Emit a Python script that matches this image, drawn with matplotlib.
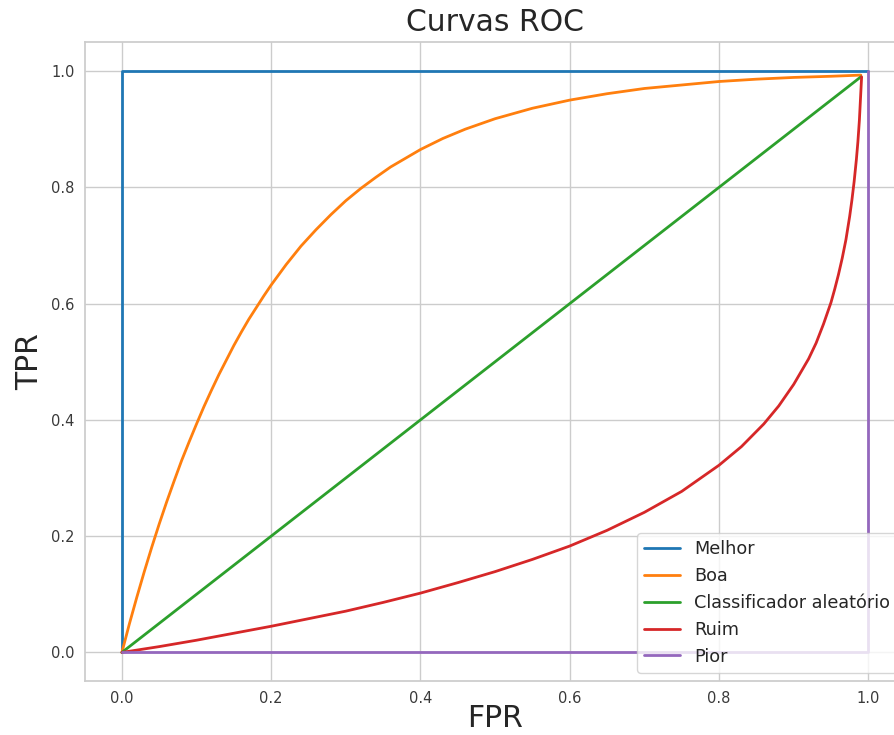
import matplotlib
matplotlib.use("Agg")
import matplotlib.pyplot as plt
import seaborn as sns

# ROC curves (false positive rate vs. true positive rate)
melhor_fpr = [0.0, 0.0, 1.0]
melhor_tpr = [0.0, 1.0, 1.0]

boa_fpr = [0.00, 0.01, 0.02, 0.03, 0.04, 0.05, 0.06, 0.07, 0.08, 0.09, 0.10,
           0.11, 0.12, 0.13, 0.14, 0.15, 0.16, 0.17, 0.18, 0.19, 0.20,
           0.22, 0.24, 0.26, 0.28, 0.30, 0.32, 0.34, 0.36, 0.38, 0.40,
           0.43, 0.46, 0.50, 0.55, 0.60, 0.65, 0.70, 0.75, 0.80, 0.85,
           0.90, 0.95, 0.99]
boa_tpr = [0.000, 0.049, 0.095, 0.139, 0.181, 0.221, 0.259, 0.295, 0.330, 0.362, 0.393,
           0.423, 0.451, 0.478, 0.503, 0.528, 0.551, 0.573, 0.593, 0.613, 0.632,
           0.667, 0.699, 0.727, 0.753, 0.777, 0.798, 0.817, 0.835, 0.850, 0.865,
           0.884, 0.900, 0.918, 0.936, 0.950, 0.961, 0.970, 0.976, 0.982, 0.986,
           0.989, 0.991, 0.993]

aleatorio_fpr = [0.0, 0.99]
aleatorio_tpr = [0.0, 0.99]

ruim_fpr = [0.00, 0.05, 0.10, 0.15, 0.20, 0.25, 0.30, 0.35, 0.40, 0.45, 0.50,
            0.55, 0.60, 0.65, 0.70, 0.75, 0.80, 0.83, 0.86, 0.88, 0.90,
            0.92, 0.93, 0.94, 0.95, 0.955, 0.96, 0.965, 0.97, 0.975, 0.978,
            0.981, 0.984, 0.986, 0.988, 0.990, 0.991]
ruim_tpr = [0.000, 0.010, 0.021, 0.033, 0.045, 0.058, 0.071, 0.086, 0.102, 0.120, 0.139,
            0.160, 0.183, 0.210, 0.241, 0.277, 0.322, 0.354, 0.393, 0.424, 0.461,
            0.505, 0.532, 0.565, 0.602, 0.625, 0.650, 0.678, 0.710, 0.750, 0.778,
            0.810, 0.848, 0.878, 0.915, 0.965, 0.990]

pior_fpr = [0.0, 1.0, 1.0]
pior_tpr = [0.0, 0.0, 1.0]

labels = ["Melhor", "Boa", "Classificador aleatório", "Ruim", "Pior"]

sns.set_style("whitegrid")
plt.rcParams["font.family"] = ["DejaVu Sans"]

fig = plt.figure(figsize=(8.95, 7.35), dpi=100)
ax = fig.add_axes([0.0945, 0.0728, 0.9174, 0.8701])

series = [(melhor_fpr, melhor_tpr), (boa_fpr, boa_tpr),
          (aleatorio_fpr, aleatorio_tpr), (ruim_fpr, ruim_tpr),
          (pior_fpr, pior_tpr)]
for (fpr, tpr), lab in zip(series, labels):
    ax.plot(fpr, tpr, lw=2, label=lab, solid_joinstyle="round")

ax.set_xlim(-0.05, 1.05)
ax.set_ylim(-0.05, 1.05)
ax.set_xticks([0.0, 0.2, 0.4, 0.6, 0.8, 1.0])
ax.set_yticks([0.0, 0.2, 0.4, 0.6, 0.8, 1.0])
ax.tick_params(axis="both", labelsize=10.5, pad=7, length=0, colors="#3a3a3a")

ax.set_title("Curvas ROC", fontsize=21.5, pad=8, color="#262626")
ax.set_xlabel("FPR", fontsize=21.5, labelpad=-1.5, color="#262626")
ax.set_ylabel("TPR", fontsize=21.5, labelpad=5, color="#262626")

for sp in ax.spines.values():
    sp.set_color("#cccccc")
    sp.set_linewidth(1.25)
ax.grid(True, color="#cccccc", linewidth=1)

leg = ax.legend(loc="lower right", fontsize=12.7, framealpha=0.8)
for t in leg.get_texts():
    t.set_color("#262626")

fig.savefig("out.png", dpi=100)
